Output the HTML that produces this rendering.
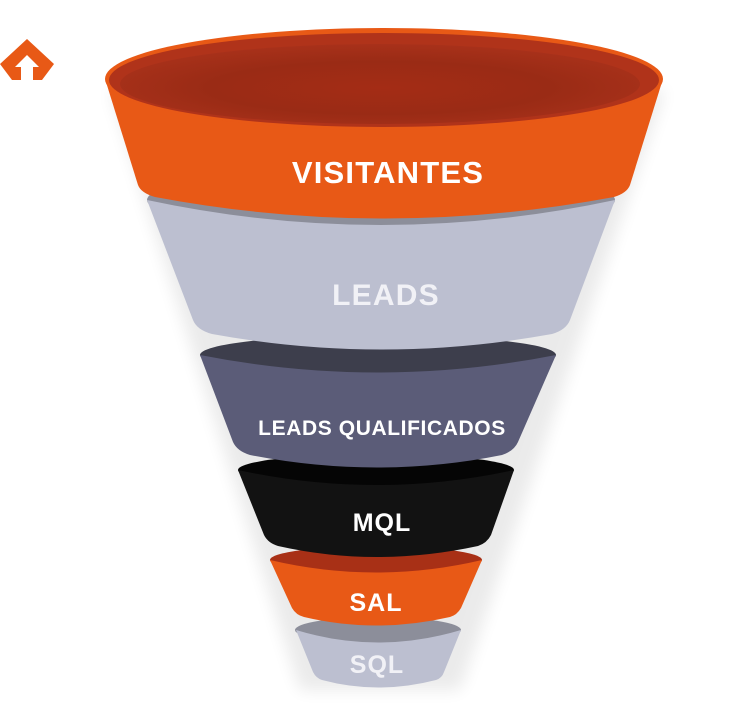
<!DOCTYPE html>
<html><head><meta charset="utf-8"><style>
html,body{margin:0;padding:0;background:#fff;}
svg{display:block}
text{font-family:"Liberation Sans",sans-serif;font-weight:bold;text-anchor:middle;}
</style></head><body>
<svg width="736" height="728" viewBox="0 0 736 728" xmlns="http://www.w3.org/2000/svg">
<defs>
<filter id="sh" x="-20%" y="-20%" width="140%" height="140%"><feGaussianBlur stdDeviation="8"/></filter>
<radialGradient id="inner" cx="50%" cy="55%" r="55%"><stop offset="0" stop-color="#a42c15"/><stop offset="0.6" stop-color="#9a2b15"/><stop offset="1" stop-color="#a8311a"/></radialGradient>
</defs>
<polygon points="27,39 54,64 42,80 33,80 33,67 39,67 27,55 15,67 21,67 21,80 12,80 0,64" fill="#e85916"/>
<path d="M110,90 L300,690 L460,690 L665,90 Z" fill="#000" opacity="0.08" filter="url(#sh)"/>
<!-- SQL -->
<ellipse cx="378" cy="630" rx="83" ry="13" fill="#8c8e9a"/>
<path d="M296,630 L313,672 Q316,678 322,680 Q378,695 436,680 Q442,678 444,672 L461,630 Q378,655 296,630 Z" fill="#bcbfd0"/>
<text x="377" y="673" font-size="25" letter-spacing="1" fill="#f1f1f6">SQL</text>
<!-- SAL -->
<ellipse cx="376" cy="560" rx="106" ry="14" fill="#a83016"/>
<path d="M270,560 L292,608 Q296,615 304,617 Q376,634 450,617 Q457,615 461,608 L482,560 Q376,585 270,560 Z" fill="#e85916"/>
<text x="376" y="611" font-size="25" letter-spacing="1" fill="#fff">SAL</text>
<!-- MQL -->
<ellipse cx="376" cy="470" rx="138" ry="16" fill="#050505"/>
<path d="M238,470 L264,535 Q268,543 278,546 Q376,568 478,546 Q487,543 491,535 L514,470 Q376,500 238,470 Z" fill="#121212"/>
<text x="382" y="531" font-size="25" letter-spacing="1" fill="#fff">MQL</text>
<!-- LQ -->
<ellipse cx="378" cy="355" rx="178" ry="20" fill="#3d3e4c"/>
<path d="M200,355 L233,442 Q237,451 250,455 Q378,480 502,455 Q514,451 518,442 L556,355 Q378,390 200,355 Z" fill="#5b5c78"/>
<text x="382" y="435" font-size="21" letter-spacing="0.6" fill="#fff">LEADS QUALIFICADOS</text>
<!-- LEADS -->
<ellipse cx="381" cy="200" rx="234" ry="32" fill="#8c8e9a"/>
<path d="M147,200 L193,320 Q197,330 212,334 Q381,365 552,334 Q566,330 570,320 L615,200 Q381,250 147,200 Z" fill="#bcbfd0"/>
<text x="386" y="305" font-size="30" letter-spacing="1.2" fill="#f1f1f6">LEADS</text>
<!-- VISITANTES -->
<path d="M106,82 L138,185 Q141,193 155,197 Q384,240 614,197 Q627,193 630,185 L662,82 Z" fill="#e85916"/>
<ellipse cx="384" cy="79" rx="279" ry="51" fill="#e85916"/>
<ellipse cx="384" cy="80" rx="275" ry="47" fill="#b0331a"/>
<ellipse cx="380" cy="84" rx="260" ry="40" fill="url(#inner)"/>
<text x="388" y="183" font-size="31" letter-spacing="1.2" fill="#fff">VISITANTES</text>
</svg>
</body></html>
